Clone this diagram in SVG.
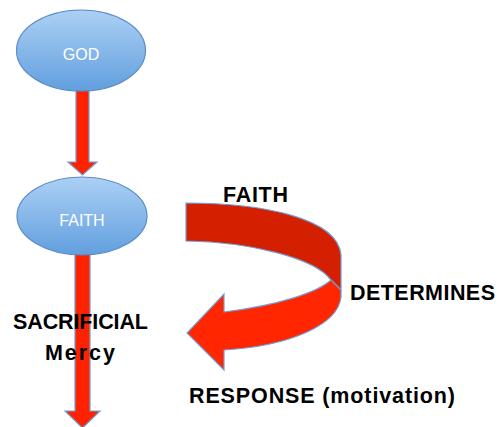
<svg xmlns="http://www.w3.org/2000/svg" width="500" height="427" viewBox="0 0 500 427">
  <defs>
    <linearGradient id="bubble" x1="0" y1="0" x2="0" y2="1">
      <stop offset="0" stop-color="#acd0f5"/>
      <stop offset="1" stop-color="#619fde"/>
    </linearGradient>
    <style>
      .node { fill: url(#bubble); stroke: #5b8cc8; stroke-width: 1.2; }
      .node-label { font-family: "Liberation Sans", Arial, sans-serif; font-size: 16px; fill: #ffffff; text-anchor: middle; }
      .shaft { fill: #ff2200; stroke: #6f9fd6; stroke-width: 1.2; stroke-linejoin: miter; }
      .band-dark { fill: #d42000; stroke: #6f9fd6; stroke-width: 1.2; }
      .band-light { fill: #ff2600; stroke: #6f9fd6; stroke-width: 1.2; }
      .label { font-family: "Liberation Sans", Arial, sans-serif; font-weight: bold; font-size: 21.5px; fill: #000000; }
    </style>
  </defs>

  <rect width="500" height="427" fill="#ffffff"/>

  <!-- connectors -->
  <g id="connectors">
    <polygon id="god-to-faith" class="shaft" points="76,89 89,89 89,162 97,162 82.5,175 68,162 76,162"/>
    <polygon id="faith-down" class="shaft" points="75,250 90,250 90,411 100,411 82.5,428 65,411 75,411"/>
    <g id="loop-arrow">
      <path class="band-dark" d="M186,203 C262,203 338,218 341,255 L341,290 L331,280 C315,258 250,242 186,241 Z"/>
      <path class="band-light" d="M331,280 L341,290 L341,297 C338,325 290,346 224,350 L224,370 L187,333 L224,294 L224,312 C280,305 318,292 331,280 Z"/>
    </g>
  </g>

  <!-- nodes -->
  <g id="node-god">
    <ellipse class="node" cx="81" cy="50.5" rx="64.5" ry="40.5"/>
    <text class="node-label" x="81" y="60">GOD</text>
  </g>
  <g id="node-faith">
    <ellipse class="node" cx="82" cy="216" rx="65" ry="39"/>
    <text class="node-label" x="82" y="226">FAITH</text>
  </g>

  <!-- labels -->
  <g id="labels">
    <text class="label" x="223" y="202" textLength="65">FAITH</text>
    <text class="label" x="350" y="300" textLength="145">DETERMINES</text>
    <text class="label" x="13" y="329" textLength="135">SACRIFICIAL</text>
    <text class="label" x="45" y="360" textLength="70">Mercy</text>
    <text class="label" x="189" y="403" textLength="266">RESPONSE (motivation)</text>
  </g>
</svg>
